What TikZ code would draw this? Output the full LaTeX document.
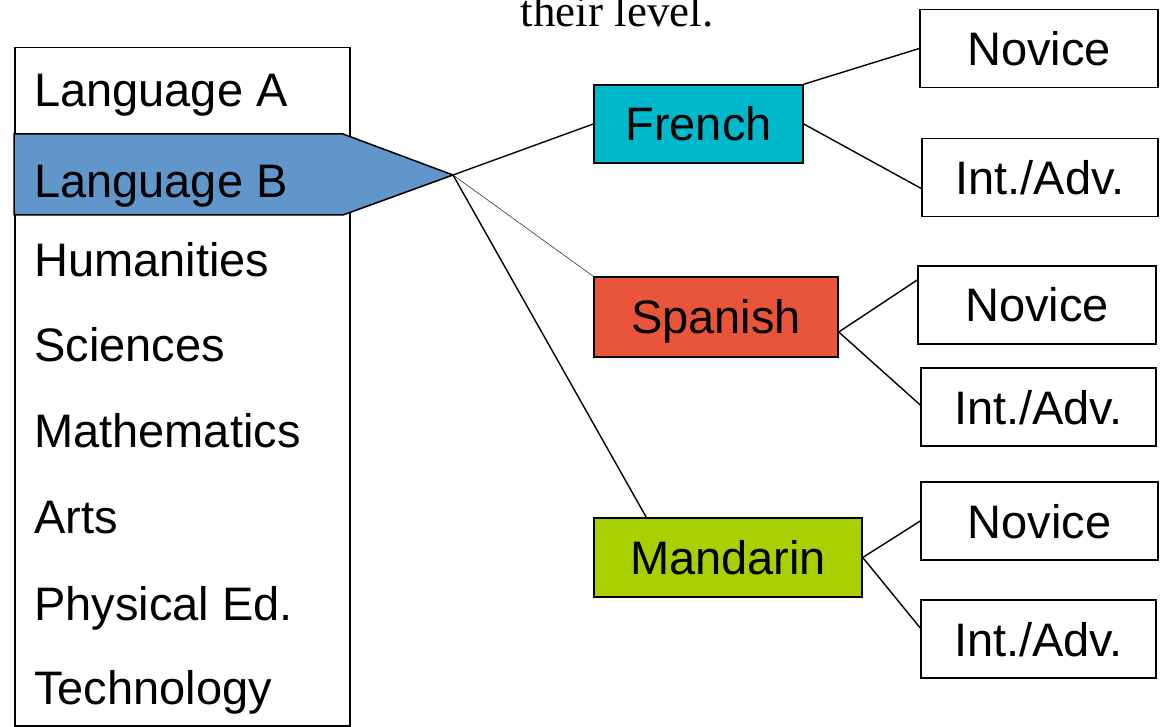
\documentclass[tikz,border=0pt]{standalone}
\usepackage{fontspec}
\usetikzlibrary{calc}
\setmainfont{Liberation Sans}
\newfontfamily\serifface{Liberation Serif}
\definecolor{frcol}{HTML}{00B8CC}
\definecolor{spcol}{HTML}{E8553A}
\definecolor{mdcol}{HTML}{A8D000}
\definecolor{lbcol}{HTML}{6096CA}
\begin{document}
\begin{tikzpicture}[x=1pt,y=-1pt,
  lbl/.style={font=\fontsize{47}{56}\selectfont, inner sep=0pt, anchor=base west},
  langbox/.style={draw, line width=1.5pt, font=\fontsize{47}{56}\selectfont, text height=34pt, text depth=0pt, inner sep=0pt},
  lvlbox/.style={draw, line width=1.5pt, fill=white, font=\fontsize{47}{56}\selectfont, text height=34pt, text depth=0pt, inner sep=0pt, minimum width=236pt, minimum height=78pt},
  conn/.style={line width=1.4pt}]
\useasboundingbox (0,0) rectangle (1162,727);
% top cut text
\node[font=\serifface\fontsize{45}{54}\selectfont, inner sep=0pt, anchor=base] (top) at (617,27) {their level.};
% list box
\node[draw, line width=1.5pt, minimum width=335pt, minimum height=678pt, inner sep=0pt, anchor=north west] (list) at (14,47) {};
% Language B arrow
\draw[line width=1.5pt, fill=lbcol] (14,134) coordinate (lbtl) -- (343,134) -- (453,175) coordinate (tip) -- (343,215) -- (14,215) -- cycle;
\node[lbl] (la) at (34,107) {Language A};
\node[lbl] (lb) at (34,198) {Language B};
\node[lbl] (hu) at (34,277) {Humanities};
\node[lbl] (sc) at (34,361) {Sciences};
\node[lbl] (ma) at (34,447) {Mathematics};
\node[lbl] (ar) at (34,533) {Arts};
\node[lbl] (pe) at (34,620) {Physical Ed.};
\node[lbl] (te) at (34,704) {Technology};
% languages
\node[langbox, fill=frcol, minimum width=209pt, minimum height=78pt] (fr) at (698.5,124) {French};
\node[langbox, fill=spcol, minimum width=244pt, minimum height=80pt] (sp) at (716,317) {Spanish};
\node[langbox, fill=mdcol, minimum width=268pt, minimum height=79pt] (md) at (728,557.5) {Mandarin};
% levels
\node[lvlbox, minimum width=238pt] (fn) at (1039,48.5) {Novice};
\node[lvlbox] (fi) at (1040,177.5) {Int./Adv.};
\node[lvlbox, minimum width=238pt] (sn) at (1037,305) {Novice};
\node[lvlbox, minimum width=235pt] (si) at (1038.5,407) {Int./Adv.};
\node[lvlbox, minimum width=237pt] (mn) at (1039.5,521) {Novice};
\node[lvlbox, minimum width=235pt] (mi) at (1038.5,639) {Int./Adv.};
% connectors
\coordinate (spout) at ($(sp.east)+(0,15)$);
\draw[conn] (tip) -- (fr.west);
\draw[line width=0.6pt, black!80] (tip) -- (sp.north west);
\draw[conn] (tip) -- ($(md.north west)+(53,0)$);
\draw[conn] (fr.north east) -- (fn.west);
\draw[conn] (fr.east) -- ($(fi.west)+(0,11)$);
\draw[conn] (spout) -- ($(sn.west)+(0,-25)$);
\draw[conn] (spout) -- ($(si.west)+(0,-2)$);
\draw[conn] (md.east) -- (mn.west);
\draw[conn] (md.east) -- ($(mi.west)+(0,-11)$);
\end{tikzpicture}
\end{document}
